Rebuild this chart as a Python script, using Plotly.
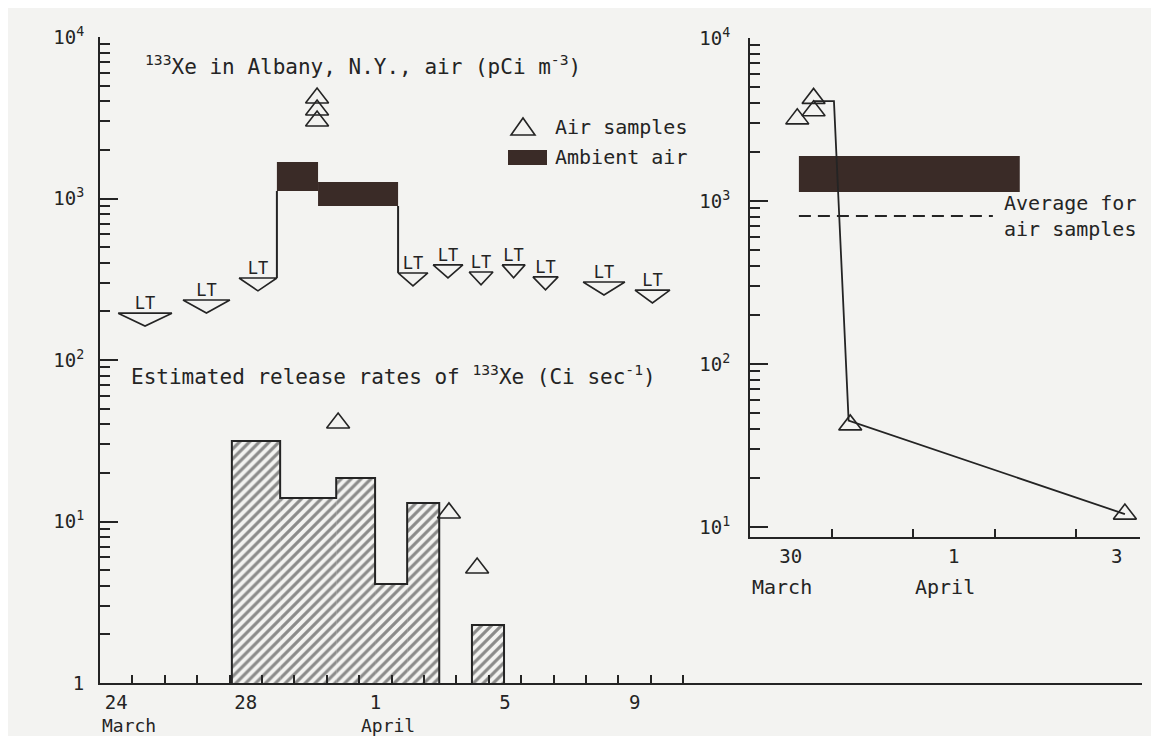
import plotly.graph_objects as go

# x values are days counted from 1 March (1 April = 32); an integer is the
# midnight that starts that day, so a day label sits at day + 0.5

# ---- main panel, upper part: 133Xe in Albany air (pCi m^-3)
# "LT" = less than detection limit, over a sampling period
lt_start = [24.56, 26.56, 28.29, 33.20, 34.28, 35.39, 36.41, 37.36, 38.91, 40.51]
lt_end = [26.22, 28.01, 29.46, 34.12, 35.20, 36.13, 37.12, 38.14, 40.20, 41.59]
lt_level = [195, 235, 322, 346, 388, 351, 388, 327, 304, 271]

# ambient air range (low / high) per period
amb_start = [29.46, 30.73]
amb_end = [30.73, 33.20]
amb_low = [1113, 899]
amb_high = [1683, 1265]

# individual air samples
air_day = [30.70, 30.70, 30.70, 31.35, 34.77, 35.64]
air_value = [4190, 3533, 3020, 40.7, 11.3, 5.15]

# ---- main panel, lower part: estimated release rates of 133Xe (Ci sec^-1)
rel_start = [28.07, 29.56, 31.29, 32.49, 33.48, 35.48]
rel_end = [29.56, 31.29, 32.49, 33.48, 34.47, 36.47]
rel_rate = [31.5, 14.0, 18.6, 4.1, 13.0, 2.29]

# ---- inset: 30 March - 3 April
ins_amb_start = [30.60]
ins_amb_end = [33.31]
ins_amb_low = [1135]
ins_amb_high = [1888]

ins_avg_start = 30.60
ins_avg_end = 32.98
ins_avg_value = 809

ins_air_day = [30.58, 30.78, 30.78, 31.23, 34.60]
ins_air_value = [3190, 3580, 4260, 42.3, 12.0]

ins_line_day = [30.78, 31.03, 31.21, 34.60]
ins_line_value = [4100, 4100, 45, 12.0]

# ---- axis ticks
main_x_labels = ["24", "28", "1", "5", "9"]
main_x_label_days = [24.5, 28.5, 32.5, 36.5, 40.5]
main_x_minor_days = list(range(25, 43))
main_y_vals = [1, 10, 100, 1000, 10000]
main_y_text = ["1", "10<sup>1</sup>", "10<sup>2</sup>", "10<sup>3</sup>", "10<sup>4</sup>"]

ins_x_labels = ["30", "1", "3"]
ins_x_label_days = [30.5, 32.5, 34.5]
ins_x_minor_days = [31, 32, 33, 34]
ins_y_vals = [10, 100, 1000, 10000]
ins_y_text = ["10<sup>1</sup>", "10<sup>2</sup>", "10<sup>3</sup>", "10<sup>4</sup>"]

month_names = ["March", "April"]
month_first_day = [24, 32]
ins_month_first_day = [30, 32]


# the page body adds an 8px margin, so the figure is laid out in page pixels
PAGE_W, PAGE_H, BODY = 1159, 744, 8
FW, FH = PAGE_W - 2 * BODY, PAGE_H - 2 * BODY
AX_L, AX_R, AX_T, AX_B = 100, 1142, 37, 683      # main plot area on the page
PW = AX_R - AX_L
PH = AX_B - AX_T

BG = "#f3f3f1"
INK = "#242424"
DARK = "#3a2b27"
FONT = "DejaVu Sans Mono"
LT_DEPTH = 10 ** -0.08


def px(x):
    return (x - AX_L) / PW


def py(y):
    return (AX_B - y) / PH


def log_minor(lo, hi):
    return [m * 10 ** k for k in range(lo, hi) for m in range(2, 10)]


fig = go.Figure()

# hatched release-rate bars (fill only), then their outer outline
rel_mid = [(a + b) / 2 for a, b in zip(rel_start, rel_end)]
rel_width = [b - a for a, b in zip(rel_start, rel_end)]
fig.add_trace(go.Bar(
    x=rel_mid, y=[r - 1 for r in rel_rate], base=[1] * len(rel_rate), width=rel_width,
    marker=dict(color=BG, line=dict(width=0),
                pattern=dict(shape="/", fgcolor=INK, bgcolor=BG, size=7, solidity=0.45)),
    hoverinfo="skip", showlegend=False,
))

edge_x, edge_y = [], []
n = len(rel_rate)
for i in range(n):
    s, e, r = rel_start[i], rel_end[i], rel_rate[i]
    if i == 0 or abs(s - rel_end[i - 1]) > 1e-9:
        if i:
            edge_x.append(None)
            edge_y.append(None)
        edge_x += [s, s]
        edge_y += [1, r]
    else:
        edge_x.append(s)
        edge_y.append(r)
    edge_x.append(e)
    edge_y.append(r)
    if i == n - 1 or abs(rel_start[i + 1] - e) > 1e-9:
        edge_x.append(e)
        edge_y.append(1)
fig.add_trace(go.Scatter(x=edge_x, y=edge_y, mode="lines",
                         line=dict(color=INK, width=2), hoverinfo="skip", showlegend=False))

# ambient air blocks
fig.add_trace(go.Bar(
    x=[(a + b) / 2 for a, b in zip(amb_start, amb_end)],
    y=[h - l for l, h in zip(amb_low, amb_high)], base=amb_low,
    width=[b - a for a, b in zip(amb_start, amb_end)],
    marker=dict(color=DARK, line=dict(width=0)), hoverinfo="skip", showlegend=False,
))

# step lines joining the detection limits to the ambient blocks
fig.add_trace(go.Scatter(
    x=[amb_start[0], amb_start[0], None, amb_end[-1], amb_end[-1]],
    y=[lt_level[2], amb_low[0], None, amb_low[-1], lt_level[3]],
    mode="lines", line=dict(color=INK, width=2), hoverinfo="skip", showlegend=False,
))

# "less than" triangles
tri_x, tri_y = [], []
for s, e, v in zip(lt_start, lt_end, lt_level):
    tri_x += [s, e, (s + e) / 2, s, None]
    tri_y += [v, v, v * LT_DEPTH, v, None]
fig.add_trace(go.Scatter(x=tri_x, y=tri_y, mode="lines",
                         line=dict(color=INK, width=1.6), hoverinfo="skip", showlegend=False))
fig.add_trace(go.Scatter(
    x=[(s + e) / 2 for s, e in zip(lt_start, lt_end)], y=lt_level,
    mode="text", text=["LT"] * len(lt_level), textposition="top center",
    textfont=dict(family=FONT, size=17, color=INK), hoverinfo="skip", showlegend=False,
))

# air samples
fig.add_trace(go.Scatter(
    x=air_day, y=air_value, mode="markers",
    marker=dict(symbol="triangle-up-open", size=20, color=INK, line=dict(width=1.6)),
    hoverinfo="skip", showlegend=False,
))

# ---- inset
fig.add_trace(go.Bar(
    x=[(a + b) / 2 for a, b in zip(ins_amb_start, ins_amb_end)],
    y=[h - l for l, h in zip(ins_amb_low, ins_amb_high)], base=ins_amb_low,
    width=[b - a for a, b in zip(ins_amb_start, ins_amb_end)],
    marker=dict(color=DARK, line=dict(width=0)), xaxis="x2", yaxis="y2",
    hoverinfo="skip", showlegend=False,
))
fig.add_trace(go.Scatter(
    x=[ins_avg_start, ins_avg_end], y=[ins_avg_value, ins_avg_value], mode="lines",
    line=dict(color=INK, width=1.8, dash="12px,7px"), xaxis="x2", yaxis="y2",
    hoverinfo="skip", showlegend=False,
))
fig.add_trace(go.Scatter(
    x=ins_line_day, y=ins_line_value, mode="lines",
    line=dict(color=INK, width=1.8), xaxis="x2", yaxis="y2",
    hoverinfo="skip", showlegend=False,
))
fig.add_trace(go.Scatter(
    x=ins_air_day, y=ins_air_value, mode="markers",
    marker=dict(symbol="triangle-up-open", size=20, color=INK, line=dict(width=1.6)),
    xaxis="x2", yaxis="y2", hoverinfo="skip", showlegend=False,
))

axis_common = dict(showline=True, linecolor=INK, linewidth=2, showgrid=False, zeroline=False,
                   tickcolor=INK, tickwidth=1.5, ticks="inside",
                   tickfont=dict(family=FONT, size=19, color=INK))

fig.update_layout(
    width=FW, height=FH,
    margin=dict(l=AX_L - BODY, r=BODY + FW - AX_R, t=AX_T - BODY, b=BODY + FH - AX_B),
    paper_bgcolor=BG, plot_bgcolor=BG,
    barmode="overlay",
    showlegend=False,
    font=dict(family=FONT, color=INK),
    xaxis=dict(axis_common, range=[24, 24 + PW / 32.4], domain=[0, 1], anchor="y",
               tickmode="array", tickvals=main_x_label_days, ticktext=main_x_labels,
               ticklen=0, ticklabelstandoff=1,
               minor=dict(tickmode="array", tickvals=main_x_minor_days, ticks="inside",
                          ticklen=8, tickwidth=1.5, tickcolor=INK)),
    yaxis=dict(axis_common, type="log", range=[0, 4], domain=[0, 1], anchor="x",
               tickmode="array", tickvals=main_y_vals, ticktext=main_y_text,
               ticklen=18, ticklabelstandoff=10,
               minor=dict(tickmode="array", tickvals=log_minor(0, 4), ticks="inside",
                          ticklen=10, tickwidth=1.5, tickcolor=INK)),
    xaxis2=dict(axis_common, range=[30, 30 + 390 / 81.5], domain=[px(750), px(1140)], anchor="y2",
                tickmode="array", tickvals=ins_x_label_days, ticktext=ins_x_labels,
                ticklen=0, ticklabelstandoff=1,
                minor=dict(tickmode="array", tickvals=ins_x_minor_days, ticks="inside",
                           ticklen=8, tickwidth=1.5, tickcolor=INK)),
    yaxis2=dict(axis_common, type="log", range=[1 - 10 / 163, 4], domain=[py(537), py(38)],
                anchor="x2", tickmode="array", tickvals=ins_y_vals, ticktext=ins_y_text,
                ticklen=18, ticklabelstandoff=14,
                minor=dict(tickmode="array", tickvals=log_minor(1, 4), ticks="inside",
                           ticklen=10, tickwidth=1.5, tickcolor=INK)),
)

title_font = dict(family=FONT, size=21, color=INK)
text_font = dict(family=FONT, size=20, color=INK)
annotations = [
    dict(x=px(143), y=py(65), font=title_font,
         text="<sup>133</sup>Xe in Albany, N.Y., air (pCi m<sup>-3</sup>)"),
    dict(x=px(129), y=py(375), font=title_font,
         text="Estimated release rates of <sup>133</sup>Xe (Ci sec<sup>-1</sup>)"),
    dict(x=px(553), y=py(127), font=text_font, text="Air samples"),
    dict(x=px(553), y=py(157), font=text_font, text="Ambient air"),
    dict(x=px(1002), y=py(216), font=text_font, text="Average for<br>air samples", align="left"),
]
for a in annotations:
    fig.add_annotation(xref="paper", yref="paper", xanchor="left", yanchor="middle",
                       showarrow=False, **a)

for name, day in zip(month_names, month_first_day):
    fig.add_annotation(x=day, xref="x", y=py(725), yref="paper", text=name,
                       xanchor="left", yanchor="middle", showarrow=False,
                       font=dict(family=FONT, size=18, color=INK))
for name, day in zip(month_names, ins_month_first_day):
    fig.add_annotation(x=day, xref="x2", y=py(587), yref="paper", text=name,
                       xanchor="left", yanchor="middle", showarrow=False,
                       font=dict(family=FONT, size=20, color=INK))

# hand-drawn legend keys
fig.add_shape(type="path", xref="paper", yref="paper",
              path=f"M {px(511)} {py(135)} L {px(535)} {py(135)} L {px(523)} {py(118)} Z",
              line=dict(color=INK, width=1.6))
fig.add_shape(type="rect", xref="paper", yref="paper",
              x0=px(508), x1=px(547), y0=py(165), y1=py(150),
              fillcolor=DARK, line=dict(width=0))

fig.write_html("out.html")
